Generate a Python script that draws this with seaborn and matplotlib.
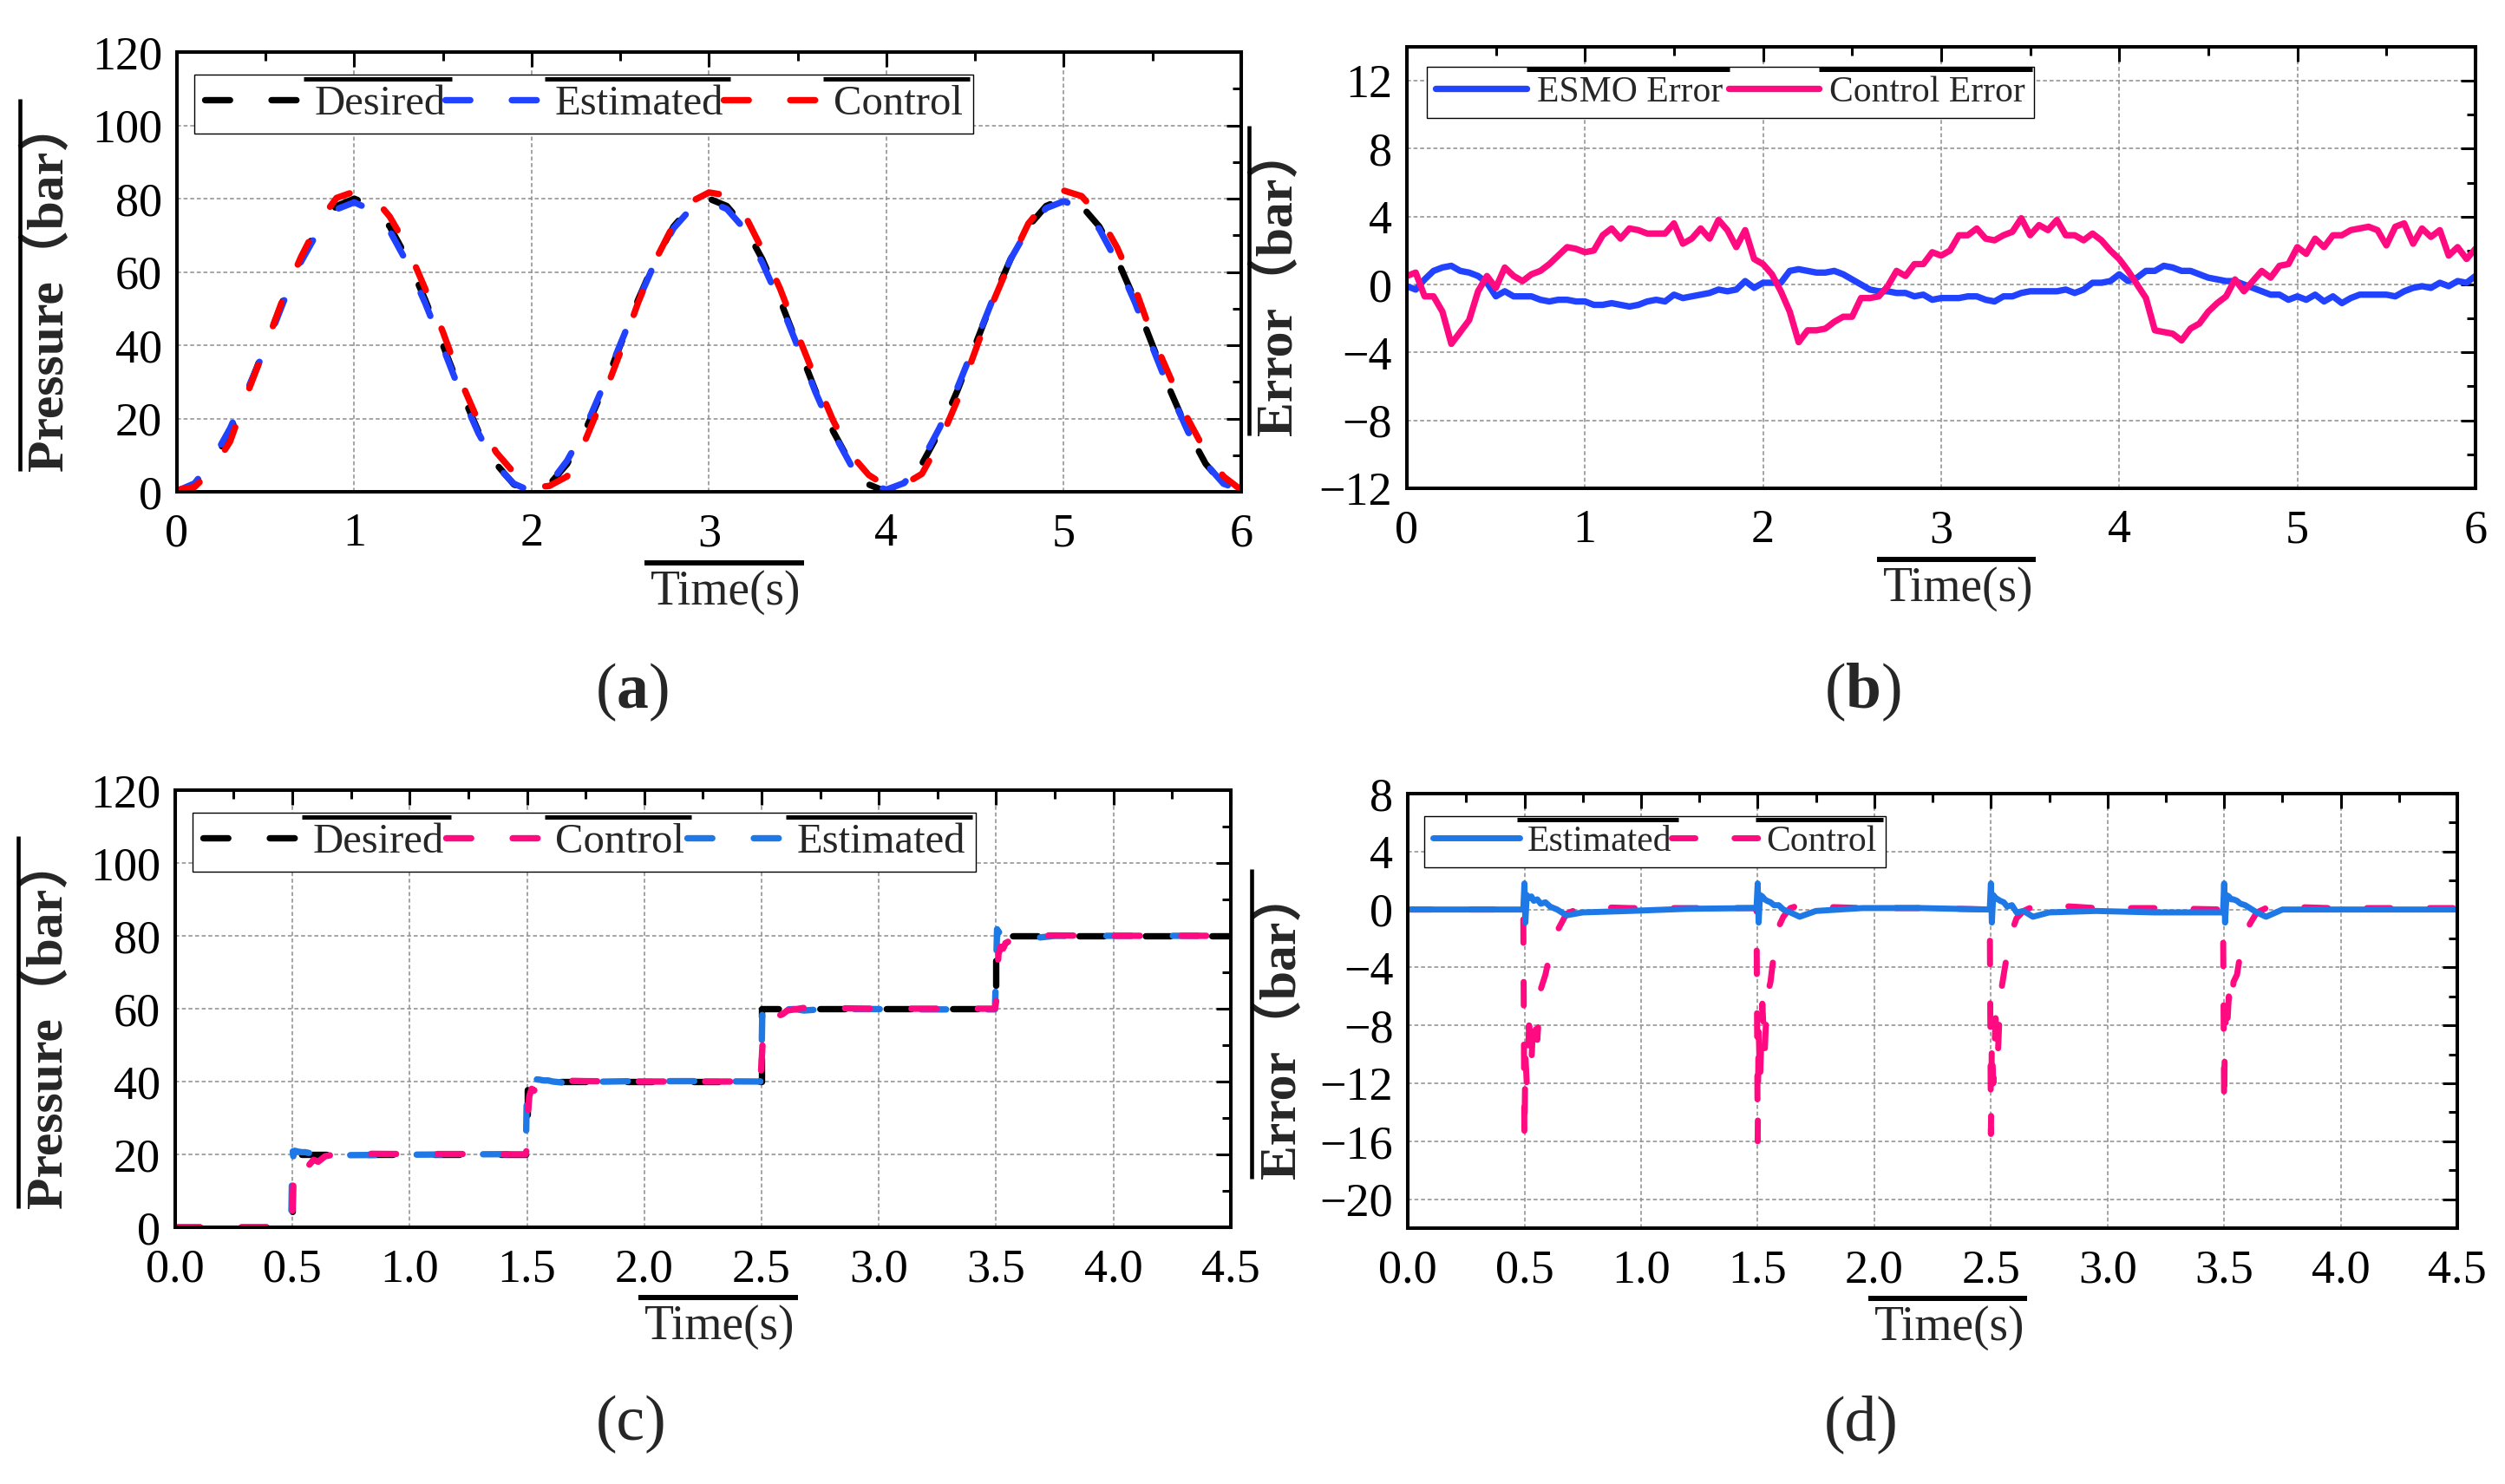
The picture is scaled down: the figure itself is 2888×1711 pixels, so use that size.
import numpy as np
import pandas as pd
import seaborn as sns
import matplotlib
matplotlib.use("Agg")
import matplotlib.pyplot as plt
from matplotlib.lines import Line2D
from matplotlib.ticker import MultipleLocator, FormatStrFormatter

sns.set_theme(style="white")
plt.rcParams['font.family'] = ['Liberation Serif', 'Noto Sans CJK SC', 'DejaVu Sans']
plt.rcParams['mathtext.fontset'] = 'custom'
plt.rcParams['mathtext.rm'] = 'Liberation Serif'
plt.rcParams['mathtext.bf'] = 'Liberation Serif:bold'
plt.rcParams['axes.unicode_minus'] = True

# ---------------- data: panel (a) sinusoidal tracking ----------------
time_a = np.linspace(0.0, 6.0, 61)
desired_a = [0, 2, 7.6, 16.5, 27.6, 40, 52.4, 63.5, 72.4, 78, 80, 78, 72.4, 63.5, 52.4, 40, 27.6, 16.5, 7.6, 2, 0,
             2, 7.6, 16.5, 27.6, 40, 52.4, 63.5, 72.4, 78, 80, 78, 72.4, 63.5, 52.4, 40, 27.6, 16.5, 7.6, 2, 0,
             2, 7.6, 16.5, 27.6, 40, 52.4, 63.5, 72.4, 78, 80, 78, 72.4, 63.5, 52.4, 40, 27.6, 16.5, 7.6, 2, 0]
estimated_a = [0.2, 2.3, 8.6, 17.3, 28.1, 39.3, 51.7, 62.8, 71.4, 77.1, 79.0, 76.8, 71.2, 62.3, 51.5, 39.4, 26.9, 16.0, 7.2, 2.2, 0.1,
               2.1, 8.5, 17.2, 28.4, 40.3, 52.1, 63.1, 71.9, 77.4, 79.2, 77.2, 71.7, 62.5, 51.7, 39.6, 27.2, 16.2, 7.3, 2.1, 0.6,
               2.4, 8.4, 17.5, 28.4, 40.4, 52.6, 63.5, 72.0, 77.4, 79.3, 77.4, 71.7, 62.7, 51.8, 39.4, 27.2, 16.4, 7.7, 2.2, 0.5]
control_a = [0.5, 1.3, 6.0, 13.7, 27.2, 39.8, 52.9, 64.1, 73.6, 80.2, 81.9, 80.9, 75.1, 66.7, 55.4, 43.6, 30.3, 19.2, 10.8, 5.2, 1.2,
             1.6, 4.2, 13.8, 25.4, 38.1, 51.6, 63.4, 72.9, 79.2, 81.7, 80.9, 75.7, 66.1, 55.5, 42.9, 30.8, 19.4, 10.2, 4.6, 1.5,
             2.0, 4.9, 13.6, 25.0, 38.4, 51.7, 63.1, 73.2, 79.1, 82.2, 80.7, 75.3, 66.7, 55.8, 42.3, 31.2, 19.8, 10.8, 4.2, 0.5]

# ---------------- data: panel (b) errors for sinusoidal tracking ----------------
time_b = np.linspace(0.0, 6.0, 121)
esmo_error_b = [-0.1, -0.3, 0.3, 0.8, 1.0, 1.1, 0.8, 0.7, 0.5, 0.1,
                -0.7, -0.4, -0.7, -0.7, -0.7, -0.9, -1.0, -0.9, -0.9, -1.0,
                -1.0, -1.2, -1.2, -1.1, -1.2, -1.3, -1.2, -1.0, -0.9, -1.0,
                -0.6, -0.8, -0.7, -0.6, -0.5, -0.3, -0.4, -0.3, 0.2, -0.2,
                0.1, 0.1, 0.1, 0.8, 0.9, 0.8, 0.7, 0.7, 0.8, 0.6,
                0.3, 0.0, -0.3, -0.4, -0.4, -0.5, -0.5, -0.7, -0.6, -0.9,
                -0.8, -0.8, -0.8, -0.7, -0.7, -0.9, -1.0, -0.7, -0.7, -0.5,
                -0.4, -0.4, -0.4, -0.4, -0.3, -0.5, -0.3, 0.1, 0.1, 0.2,
                0.6, 0.2, 0.4, 0.8, 0.8, 1.1, 1.0, 0.8, 0.8, 0.6,
                0.4, 0.3, 0.2, 0.2, 0.0, -0.2, -0.4, -0.6, -0.6, -0.9,
                -0.7, -0.9, -0.6, -1.0, -0.7, -1.1, -0.8, -0.6, -0.6, -0.6,
                -0.6, -0.7, -0.4, -0.2, -0.1, -0.2, 0.1, -0.1, 0.2, 0.1,
                0.5]
control_error_b = [0.5, 0.7, -0.7, -0.7, -1.6, -3.5, -2.8, -2.1, -0.4, 0.5,
                   -0.2, 1.0, 0.5, 0.2, 0.6, 0.8, 1.2, 1.7, 2.2, 2.1,
                   1.9, 2.0, 2.9, 3.3, 2.7, 3.3, 3.2, 3.0, 3.0, 3.0,
                   3.6, 2.4, 2.7, 3.3, 2.7, 3.8, 3.2, 2.2, 3.2, 1.5,
                   1.2, 0.6, -0.4, -1.6, -3.4, -2.7, -2.7, -2.6, -2.2, -1.9,
                   -1.9, -0.8, -0.8, -0.7, -0.1, 0.8, 0.5, 1.2, 1.2, 1.9,
                   1.7, 2.0, 2.9, 2.9, 3.3, 2.7, 2.6, 2.9, 3.1, 3.9,
                   2.9, 3.5, 3.2, 3.8, 2.9, 2.9, 2.6, 3.0, 2.6, 2.0,
                   1.5, 0.8, 0.0, -0.8, -2.7, -2.8, -2.9, -3.3, -2.6, -2.3,
                   -1.6, -1.1, -0.7, 0.3, -0.4, 0.2, 0.8, 0.4, 1.1, 1.2,
                   2.2, 1.8, 2.7, 2.2, 2.9, 2.9, 3.2, 3.3, 3.4, 3.2,
                   2.3, 3.4, 3.6, 2.4, 3.3, 2.8, 3.2, 1.7, 2.2, 1.5,
                   2.1]

# ---------------- data: panels (c) and (d) step tracking ----------------
desired_c_time = [0.0, 0.5, 0.5, 1.5, 1.5, 2.5, 2.5, 3.5, 3.5, 4.5]
desired_c = [0, 0, 20, 20, 40, 40, 60, 60, 80, 80]
time_cd = [0.0, 0.25,
           0.495, 0.5, 0.504, 0.51, 0.52, 0.53, 0.54, 0.555, 0.57, 0.59, 0.61, 0.64, 0.68, 0.75, 0.95, 1.2,
           1.495, 1.5, 1.504, 1.51, 1.52, 1.53, 1.54, 1.555, 1.57, 1.59, 1.61, 1.64, 1.68, 1.75, 1.95, 2.2,
           2.495, 2.5, 2.504, 2.51, 2.52, 2.53, 2.54, 2.555, 2.57, 2.59, 2.61, 2.64, 2.68, 2.75, 2.95, 3.2,
           3.495, 3.5, 3.504, 3.51, 3.52, 3.53, 3.54, 3.555, 3.57, 3.59, 3.61, 3.64, 3.68, 3.75, 3.95, 4.2,
           4.5]
control_c = [0.0, 0.0,
             0.0, 4.0, 12.0, 16.0, 15.5, 17.0, 16.0, 17.5, 17.0, 18.5, 18.0, 19.5, 20.0, 20.2, 20.1, 20.1,
             20.0, 22.0, 31.0, 36.0, 38.0, 37.5, 38.5, 39.0, 39.5, 40.0, 40.5, 40.3, 40.2, 40.1, 40.0, 40.0,
             40.0, 45.0, 50.0, 54.0, 55.0, 57.0, 56.5, 57.5, 58.0, 58.5, 59.5, 59.8, 60.2, 60.2, 60.0, 60.0,
             60.0, 62.0, 68.0, 75.0, 77.0, 76.5, 78.0, 78.5, 79.0, 79.2, 79.6, 80.0, 80.1, 80.1, 80.0, 80.0,
             80.0]
estimated_c = [0.0, 0.0,
               0.0, 21.8, 19.5, 21.0, 20.8, 20.7, 20.6, 20.6, 20.4, 20.5, 20.2, 20.0, 19.7, 19.8, 19.9, 20.0,
               20.1, 39.0, 41.5, 40.5, 40.9, 40.7, 40.6, 40.5, 40.3, 40.3, 40.0, 39.8, 39.5, 39.9, 40.1, 40.1,
               40.0, 47.0, 61.8, 61.0, 60.8, 60.7, 60.6, 60.5, 60.2, 60.3, 59.8, 59.9, 59.5, 59.8, 59.9, 59.8,
               59.8, 71.0, 81.8, 81.0, 80.9, 80.7, 80.7, 80.6, 80.4, 80.3, 80.1, 79.8, 79.5, 80.0, 80.0, 80.0,
               80.0]
control_error_d = [0.0, 0.0,
                   0.0, -16.0, -10.0, -12.0, -8.0, -10.5, -7.0, -9.0, -5.5, -4.5, -3.0, -1.5, -0.3, 0.2, 0.1, 0.1,
                   0.1, -16.0, -8.0, -12.0, -6.5, -10.0, -6.0, -5.0, -3.0, -1.2, -0.5, 0.1, 0.3, 0.2, 0.1, 0.1,
                   0.0, -15.5, -9.0, -12.0, -7.5, -10.0, -6.0, -4.5, -3.0, -1.5, -0.6, -0.1, 0.2, 0.3, 0.1, 0.1,
                   0.0, -13.7, -7.0, -9.0, -6.0, -7.0, -5.0, -4.5, -3.0, -2.2, -1.0, -0.2, 0.1, 0.2, 0.1, 0.1,
                   0.1]
estimated_error_d = [0.0, 0.0,
                     0.0, 1.8, -0.9, 1.0, 0.8, 0.9, 0.6, 0.7, 0.4, 0.5, 0.2, 0.0, -0.4, -0.2, -0.1, 0.05,
                     0.1, 1.8, -0.9, 1.0, 0.9, 0.7, 0.6, 0.5, 0.3, 0.3, 0.0, -0.2, -0.5, -0.1, 0.1, 0.1,
                     0.0, 1.8, -0.9, 1.0, 0.8, 0.7, 0.6, 0.5, 0.2, 0.3, -0.2, -0.1, -0.5, -0.2, -0.1, -0.2,
                     -0.2, 1.8, -0.9, 1.0, 0.9, 0.7, 0.7, 0.6, 0.4, 0.3, 0.1, -0.2, -0.5, 0.0, 0.0, 0.0,
                     0.0]

labels_a = ["Desired", "Estimated", "Control"]
labels_b = ["ESMO Error", "Control Error"]
labels_c = ["Desired", "Control", "Estimated"]
labels_d = ["Estimated", "Control"]

# ---------------- styling ----------------
BLACK = "#000000"
BLUE_A = "#2142FF"
RED = "#FF0000"
PINK = "#FF0A80"
BLUE_C = "#1E78E6"
DASH = (0, (3.9, 6.5))
LW_DASH = 5.3
LW_SOLID = 5.3
TICK_FS = 39
XLABEL_FS = 40
YLABEL_FS = 43

fig = plt.figure(figsize=(28.88, 17.11), dpi=100)
fig.patch.set_facecolor("white")
ax_a = fig.add_axes([0.0706, 0.6686, 0.4249, 0.2963])
ax_b = fig.add_axes([0.5616, 0.6710, 0.4266, 0.2975])
ax_c = fig.add_axes([0.0699, 0.1730, 0.4214, 0.2946])
ax_d = fig.add_axes([0.5620, 0.1724, 0.4190, 0.2928])


def dline(ax, x, y, color, dashed=True, lw=None):
    kw = dict(x=x, y=y, ax=ax, color=color, sort=False, estimator=None, errorbar=None)
    if dashed:
        sns.lineplot(**kw, lw=lw or LW_DASH, linestyle=DASH, dash_capstyle="round")
    else:
        sns.lineplot(**kw, lw=lw or LW_SOLID, solid_capstyle="round", solid_joinstyle="round")
    return ax.lines[-1]


def style_axes(ax, xlim, ylim, xmaj, xmin, ymaj, ymin, xfmt, ylabel):
    ax.set_xlim(*xlim)
    ax.set_ylim(*ylim)
    ax.xaxis.set_major_locator(MultipleLocator(xmaj))
    ax.xaxis.set_minor_locator(MultipleLocator(xmin))
    ax.yaxis.set_major_locator(MultipleLocator(ymaj))
    ax.yaxis.set_minor_locator(MultipleLocator(ymin))
    ax.xaxis.set_major_formatter(FormatStrFormatter(xfmt))
    ax.grid(True, which="major", color="#8c8c8c", linestyle=(0, (3, 2)), linewidth=1.1)
    ax.set_axisbelow(True)
    for s in ax.spines.values():
        s.set_visible(True)
        s.set_linewidth(2.9)
        s.set_color("black")
    ax.tick_params(which="both", direction="in", top=True, right=True, width=2.2,
                   colors="black", labelsize=TICK_FS)
    ax.tick_params(which="major", length=12)
    ax.tick_params(which="minor", length=7)
    ax.tick_params(axis="x", which="major", pad=17)
    ax.tick_params(axis="y", which="major", pad=12)
    ax.set_xlabel("Time(s)", fontsize=XLABEL_FS)
    ax.set_ylabel(ylabel, fontsize=YLABEL_FS, fontweight="bold")
    ax.xaxis.set_label_coords(0.516, -0.177)
    ax.yaxis.set_label_coords(-0.097, 0.47)


def make_legend(ax, handles, labels, anchor, fs, hl, htp, cs):
    leg = ax.legend(handles=handles, labels=labels, ncol=len(labels), loc="upper left",
                    bbox_to_anchor=anchor, borderaxespad=0, frameon=True, fancybox=False,
                    edgecolor="black", framealpha=1, fontsize=fs, handlelength=hl,
                    handletextpad=htp, columnspacing=cs, borderpad=0.25)
    leg.get_frame().set_linewidth(1.0)
    return leg


# ---- (a)
h_des = dline(ax_a, time_a, desired_a, BLACK)
h_est = dline(ax_a, time_a, estimated_a, BLUE_A)
h_con = dline(ax_a, time_a, control_a, RED)
style_axes(ax_a, (0, 6), (0, 120), 1, 0.5, 20, 10, "%g", "Pressure（bar）")
leg_a = make_legend(ax_a, [h_des, h_est, h_con], labels_a, (0.016, 0.949), 35, 2.3, 0.3, 0.0)

# ---- (b)
h_esmo = dline(ax_b, time_b, esmo_error_b, BLUE_A, dashed=False)
h_cerr = dline(ax_b, time_b, control_error_b, PINK, dashed=False)
style_axes(ax_b, (0, 6), (-12, 14), 1, 0.5, 4, 2, "%g", "Error（bar）")
leg_b = make_legend(ax_b, [h_esmo, h_cerr], labels_b, (0.0187, 0.955), 30, 2.5, 0.3, 0.15)

# ---- (c)
h_des_c = dline(ax_c, desired_c_time, desired_c, BLACK)
h_est_c = dline(ax_c, time_cd, estimated_c, BLUE_C)
h_con_c = dline(ax_c, time_cd, control_c, PINK)
style_axes(ax_c, (0, 4.5), (0, 120), 0.5, 0.25, 20, 10, "%.1f", "Pressure（bar）")
leg_c = make_legend(ax_c, [h_des_c, h_con_c, h_est_c], labels_c, (0.0164, 0.948), 35, 2.3, 0.3, 0.05)

# ---- (d)
h_con_d = dline(ax_d, time_cd, control_error_d, PINK, lw=5.0)
h_est_d = dline(ax_d, time_cd, estimated_error_d, BLUE_C, dashed=False, lw=5.0)
style_axes(ax_d, (0, 4.5), (-22, 8), 0.5, 0.25, 4, 2, "%.1f", "Error（bar）")
leg_d = make_legend(ax_d, [h_est_d, h_con_d], labels_d, (0.0157, 0.948), 30, 2.4, 0.2, 0.0)

# ---- captions
fig.text(728 / 2888, 1 - 798 / 1711, r"($\mathbf{a}$)", ha="center", va="center", fontsize=53)
fig.text(2147 / 2888, 1 - 798 / 1711, r"($\mathbf{b}$)", ha="center", va="center", fontsize=53)
fig.text(728 / 2888, 1 - 1642 / 1711, "(c)", ha="center", va="center", fontsize=53)
fig.text(2146 / 2888, 1 - 1642 / 1711, "(d)", ha="center", va="center", fontsize=53)

# ---- overline bars above labels (Origin-style)
fig.canvas.draw()
renderer = fig.canvas.get_renderer()
inv = fig.transFigure.inverted()


def overline(txt, orient="h", gap=8, lw=4.0, ext0=8, ext1=4):
    bb = txt.get_window_extent(renderer)
    if orient == "h":
        y = bb.y1 + gap
        p0 = inv.transform((bb.x0 - ext0, y))
        p1 = inv.transform((bb.x1 + ext1, y))
    else:
        x = bb.x0 - gap
        p0 = inv.transform((x, bb.y0 - ext0))
        p1 = inv.transform((x, bb.y1 + ext1))
    fig.add_artist(Line2D([p0[0], p1[0]], [p0[1], p1[1]], transform=fig.transFigure,
                          color="black", lw=lw, solid_capstyle="butt"))


for ax in (ax_a, ax_b, ax_c, ax_d):
    overline(ax.xaxis.label, "h", gap=8, lw=4.3, ext0=7, ext1=3)
    overline(ax.yaxis.label, "v", gap=5, lw=3.3, ext0=0, ext1=0)
for leg in (leg_a, leg_b, leg_c, leg_d):
    for t in leg.get_texts():
        overline(t, "h", gap=7, lw=3.6, ext0=12, ext1=8)

fig.savefig("out.png", dpi=100, facecolor="white")
